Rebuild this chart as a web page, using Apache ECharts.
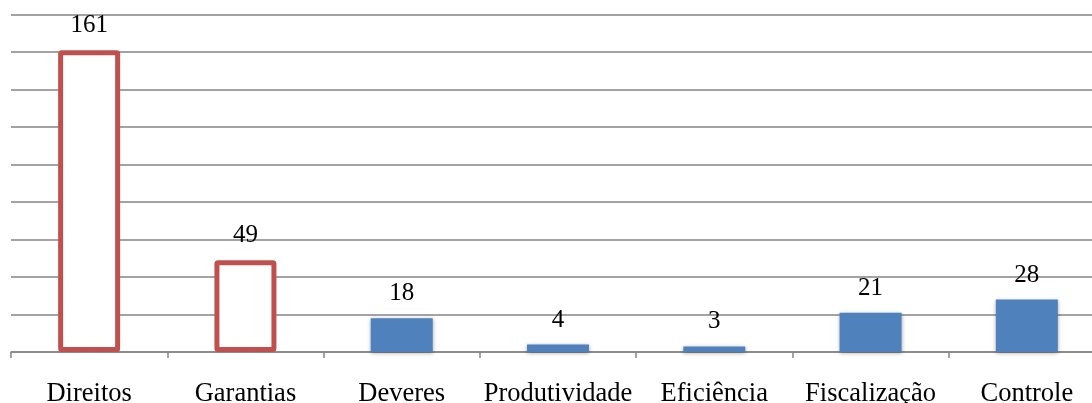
<!DOCTYPE html>
<html>
<head>
<meta charset="utf-8">
<script src="https://cdn.jsdelivr.net/npm/echarts@6/dist/echarts.min.js"></script>
<style>
html,body{margin:0;padding:0;background:#fff;overflow:hidden;}
#chart{width:1092px;height:403px;}
</style>
</head>
<body>
<div id="chart"></div>
<script>
const categories = ['Direitos', 'Garantias', 'Deveres', 'Produtividade', 'Eficiência', 'Fiscalização', 'Controle'];
const values = [161, 49, 18, 4, 3, 21, 28];
const outlinedCategories = ['Direitos', 'Garantias'];

const chart = echarts.init(document.getElementById('chart'), null, {renderer: 'canvas'});
const font = '"Liberation Serif", "Times New Roman", serif';

const data = values.map((v, i) => {
  const outlined = outlinedCategories.includes(categories[i]);
  return {
    value: v,
    itemStyle: outlined ? {
      color: '#ffffff',
      borderColor: '#C0504D',
      borderWidth: 5,
      borderRadius: 1
    } : {
      color: '#4F81BD',
      shadowBlur: 4,
      shadowColor: 'rgba(0,0,0,0.35)',
      shadowOffsetY: 1
    }
  };
});

chart.setOption({
  animation: false,
  grid: {left: 11, right: -13, top: 14.5, bottom: 51, containLabel: false, outerBoundsMode: 'none'},
  xAxis: {
    type: 'category',
    data: categories,
    axisLine: {show: true, lineStyle: {color: '#858585', width: 1.5}},
    axisTick: {show: true, length: 6, alignWithLabel: false, lineStyle: {color: '#858585', width: 1.5}},
    axisLabel: {color: '#000', fontFamily: font, fontSize: 26.5, margin: 29, interval: 0}
  },
  yAxis: {
    type: 'value',
    min: 0,
    max: 180,
    interval: 20,
    axisLine: {show: false},
    axisTick: {show: false},
    axisLabel: {show: false},
    splitLine: {show: true, lineStyle: {color: '#858585', width: 1.5}}
  },
  series: [{
    type: 'bar',
    data: data,
    barWidth: 62,
    label: {
      show: true,
      position: 'top',
      distance: 12,
      color: '#000',
      fontFamily: font,
      fontSize: 25
    }
  }]
});
</script>
</body>
</html>
